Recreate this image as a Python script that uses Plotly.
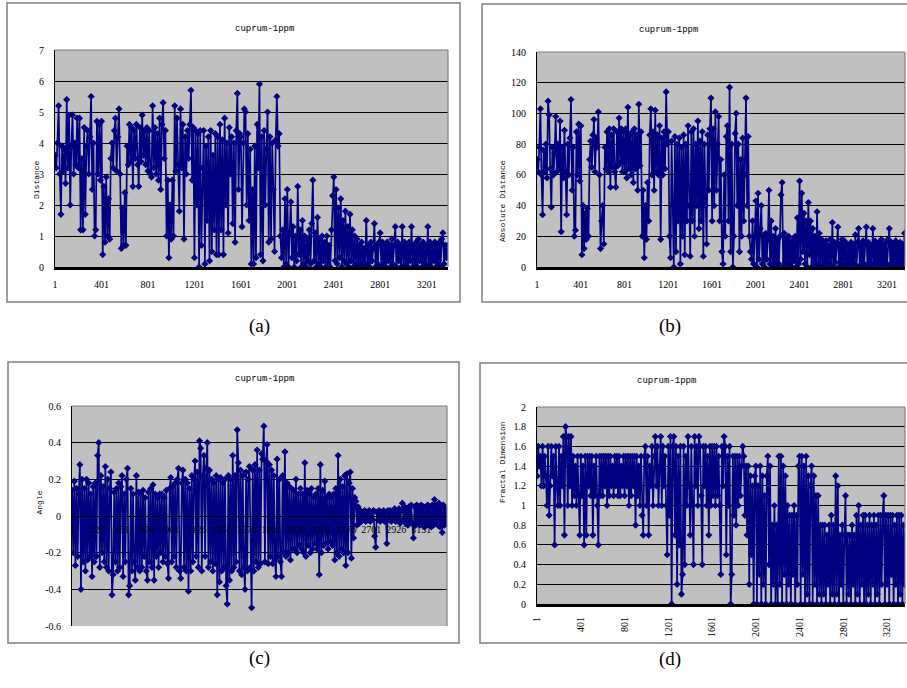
import plotly.graph_objects as go

W, H = 907, 688

# sample index (one value read every 10 samples)
SAMPLE = list(range(1, 3400, 10))

DISTANCE = [
    3.6, 3.2, 4.0, 5.2, 3.0, 1.7, 3.9, 3.1, 3.8, 2.7, 5.4, 3.2, 4.9, 2.0, 3.9, 4.9, 3.0, 4.0, 3.3, 4.8,
    3.2, 4.8, 1.2, 3.5, 1.2, 4.5, 1.7, 3.9, 4.4, 3.0, 4.2, 5.5, 2.5, 4.0, 1.0, 1.2, 4.7, 3.0, 4.6, 2.8,
    4.7, 0.4, 2.6, 0.8, 2.9, 1.0, 2.2, 0.9, 3.5, 4.0, 3.2, 4.4, 4.8, 3.1, 4.2, 5.1, 3.0, 0.6, 1.9, 0.7,
    2.4, 0.7, 3.9, 3.3, 4.6, 3.4, 4.5, 2.6, 4.4, 3.5, 4.6, 3.3, 2.6, 4.5, 3.4, 4.9, 3.6, 4.4, 3.3, 4.5,
    3.1, 4.4, 3.0, 2.9, 5.2, 3.2, 4.5, 3.0, 4.3, 2.8, 4.8, 2.5, 4.6, 5.3, 3.5, 4.4, 1.0, 2.8, 0.3, 2.0,
    0.9, 2.8, 1.0, 5.2, 3.1, 4.8, 3.3, 1.8, 5.1, 3.2, 4.6, 0.9, 4.2, 3.0, 4.4, 3.5, 4.6, 5.7, 2.8, 4.5,
    0.3, 4.4, 2.0, 4.3, 0.0, 4.4, 0.7, 3.2, 4.4, 0.1, 3.9, 1.5, 4.2, 0.2, 4.4, 0.5, 3.6, 1.2, 4.3, 0.4,
    4.2, 0.4, 4.6, 1.2, 4.1, 0.4, 4.8, 2.0, 4.0, 1.1, 4.5, 3.0, 4.2, 1.4, 4.0, 0.8, 4.4, 5.6, 2.5, 4.3,
    4.2, 1.3, 4.0, 5.1, 5.0, 2.0, 4.3, 1.5, 3.8, 0.1, 2.5, 0.1, 3.9, 0.3, 4.6, 3.2, 5.9, 0.4, 4.2, 0.2,
    4.4, 2.0, 3.8, 5.0, 0.8, 4.2, 0.9, 4.0, 2.5, 0.5, 4.1, 5.5, 3.9, 4.3, 1.0, 0.3, 1.2, 0.0, 2.2, 0.1,
    2.5, 0.0, 1.1, 2.1, 0.3, 1.3, 0.0, 1.0, 0.2, 2.6, 0.4, 1.2, 0.0, 1.5, 0.1, 1.0, 0.0, 0.9, 0.2, 1.2,
    0.1, 1.4, 2.8, 0.2, 1.1, 0.0, 1.6, 0.1, 0.9, 0.0, 1.0, 0.2, 0.8, 0.0, 1.0, 0.1, 0.7, 0.0, 1.2, 2.3,
    2.9, 0.2, 2.5, 0.1, 1.9, 0.3, 2.2, 0.0, 1.5, 0.2, 1.8, 0.1, 1.3, 0.0, 1.7, 0.2, 1.2, 0.0, 1.0, 0.1,
    0.9, 0.0, 0.7, 0.1, 0.8, 0.0, 0.6, 0.0, 1.5, 0.1, 0.7, 0.0, 0.8, 0.2, 0.6, 1.4, 0.0, 0.7, 0.1, 0.8,
    1.1, 0.0, 0.8, 0.1, 0.7, 0.0, 0.8, 0.2, 0.7, 0.0, 0.9, 0.1, 0.7, 1.3, 0.0, 0.8, 0.2, 0.7, 0.0, 1.3,
    0.0, 0.8, 0.1, 0.7, 0.0, 0.8, 0.2, 1.3, 0.0, 0.7, 0.1, 0.8, 0.0, 0.9, 0.2, 0.7, 0.0, 0.8, 0.1, 0.7,
    0.0, 1.3, 0.1, 0.8, 0.0, 0.7, 0.2, 0.8, 0.0, 0.7, 0.1, 0.8, 0.0, 0.9, 1.1, 0.1, 0.7, 0.3, 0.7, 0.4,
]

ABS_DISTANCE = [
    70, 62, 78, 103, 60, 34, 76, 62, 80, 58, 108, 99, 64, 39, 78, 60, 74, 98, 62, 80,
    64, 95, 23, 78, 58, 89, 62, 34, 80, 60, 84, 109, 50, 78, 20, 24, 88, 60, 93, 56,
    92, 8, 40, 12, 35, 18, 38, 20, 70, 82, 65, 86, 96, 62, 84, 78, 101, 60, 12, 30,
    40, 15, 78, 64, 88, 62, 90, 52, 86, 65, 90, 62, 52, 88, 66, 97, 68, 90, 62, 88,
    62, 90, 58, 104, 64, 86, 60, 88, 55, 90, 64, 86, 50, 106, 66, 88, 20, 50, 6, 40,
    18, 55, 30, 86, 103, 60, 88, 50, 102, 62, 86, 60, 92, 18, 84, 60, 88, 64, 114, 80,
    88, 20, 6, 82, 40, 0, 85, 10, 80, 30, 84, 2, 78, 20, 86, 8, 80, 30, 92, 40,
    7, 88, 30, 90, 20, 80, 40, 95, 25, 82, 30, 88, 7, 80, 40, 15, 86, 50, 90, 110,
    30, 90, 40, 101, 50, 80, 98, 30, 70, 10, 2, 60, 20, 85, 92, 30, 117, 10, 80, 0,
    20, 87, 100, 40, 80, 10, 70, 20, 84, 30, 60, 110, 40, 85, 20, 10, 5, 30, 2, 20,
    43, 0, 48, 5, 25, 40, 2, 20, 0, 22, 5, 18, 50, 2, 30, 0, 20, 3, 25, 0,
    18, 2, 20, 47, 55, 0, 22, 3, 18, 0, 20, 2, 16, 0, 18, 4, 20, 0, 32, 2,
    56, 5, 48, 10, 35, 2, 30, 0, 42, 8, 30, 0, 25, 3, 20, 0, 36, 2, 22, 0,
    18, 0, 15, 3, 17, 0, 14, 2, 18, 1, 29, 0, 16, 3, 14, 26, 0, 15, 2, 18,
    0, 17, 2, 15, 0, 14, 3, 16, 0, 15, 2, 21, 0, 16, 25, 1, 14, 0, 17, 2,
    15, 26, 0, 16, 3, 14, 0, 25, 2, 17, 0, 15, 3, 16, 0, 18, 2, 14, 0, 16,
    2, 18, 25, 0, 16, 3, 15, 0, 17, 2, 14, 0, 16, 3, 15, 0, 22, 4, 12, 6,
]

ANGLE = [
    0.14, -0.20, 0.19, -0.27, 0.15, -0.22, 0.12, 0.28, -0.40, 0.20, -0.25, 0.15, -0.30, 0.20, -0.24, 0.18, -0.22, 0.12, -0.33, 0.16,
    -0.25, 0.18, -0.22, 0.33, 0.40, -0.28, 0.22, -0.20, 0.16, -0.25, 0.27, -0.28, 0.20, -0.30, 0.15, 0.24, -0.43, -0.32, 0.13, -0.25,
    0.15, -0.30, 0.18, -0.28, 0.16, 0.22, -0.33, 0.12, -0.25, 0.20, 0.26, -0.43, -0.38, 0.15, -0.30, 0.12, -0.25, -0.35, 0.22, -0.28,
    0.13, -0.30, 0.12, -0.28, 0.14, -0.22, 0.10, -0.30, -0.35, 0.13, -0.25, 0.15, -0.28, 0.17, -0.35, 0.12, -0.22, 0.10, -0.28, 0.12,
    -0.20, 0.12, -0.25, 0.10, -0.22, 0.14, -0.26, -0.34, 0.15, 0.21, -0.25, 0.16, -0.22, 0.18, -0.28, 0.20, 0.26, -0.30, -0.34, 0.18,
    0.25, -0.28, 0.20, -0.30, 0.18, -0.41, 0.15, -0.30, 0.22, -0.25, 0.20, 0.30, -0.22, 0.24, -0.28, 0.41, 0.37, -0.30, 0.22, 0.33,
    -0.22, 0.26, 0.40, -0.28, 0.25, -0.25, 0.20, -0.30, 0.18, -0.26, 0.22, -0.43, 0.20, -0.36, 0.21, -0.30, 0.18, -0.28, 0.20, -0.38,
    -0.48, 0.22, -0.35, 0.20, -0.30, 0.33, -0.28, 0.22, -0.25, 0.47, 0.29, -0.30, 0.25, -0.32, 0.22, -0.28, -0.40, 0.24, -0.30, 0.20,
    0.27, -0.28, -0.50, 0.25, -0.30, 0.28, -0.25, 0.36, -0.28, 0.25, -0.26, 0.34, 0.31, 0.49, -0.25, 0.30, 0.39, -0.26, 0.28, -0.22,
    0.25, -0.26, 0.22, -0.24, -0.33, 0.31, -0.22, 0.20, -0.25, -0.33, 0.22, -0.20, 0.35, -0.22, 0.18, -0.20, 0.16, -0.24, 0.15, -0.18,
    0.14, -0.18, 0.20, -0.20, 0.12, -0.16, 0.15, -0.18, 0.12, -0.20, 0.29, -0.22, 0.14, -0.16, 0.12, -0.20, 0.15, -0.18, 0.10, -0.15,
    0.12, -0.18, 0.15, -0.32, 0.28, -0.20, 0.14, -0.16, 0.19, -0.15, 0.10, -0.18, 0.12, -0.14, 0.10, -0.16, 0.12, -0.24, 0.15, -0.20,
    0.33, -0.22, 0.20, -0.18, 0.16, -0.20, 0.22, -0.27, 0.23, -0.20, 0.18, 0.24, -0.23, 0.15, -0.12, 0.10, 0.08, -0.05, 0.05, -0.04,
    0.03, -0.03, 0.02, -0.02, 0.03, -0.03, 0.02, -0.02, 0.03, -0.03, 0.02, -0.02, 0.03, -0.11, -0.17, 0.02, -0.02, 0.03, -0.03, 0.02,
    -0.02, 0.03, -0.03, 0.02, -0.15, 0.03, -0.02, 0.03, -0.03, 0.02, -0.02, 0.04, -0.03, 0.03, -0.02, 0.04, -0.04, 0.03, 0.07, -0.02,
    0.05, -0.04, 0.04, -0.05, 0.05, -0.03, 0.06, -0.04, -0.12, 0.05, -0.05, 0.06, -0.04, 0.05, -0.05, 0.06, -0.04, 0.05, -0.06, 0.05,
    -0.05, 0.06, -0.04, 0.05, -0.06, 0.06, -0.05, 0.09, -0.04, 0.06, -0.05, 0.07, -0.06, 0.05, -0.09, 0.06, -0.05, 0.04, -0.04, 0.03,
]

FRACTAL = [
    1.3, 1.6, 1.4, 1.5, 1.2, 1.6, 1.2, 1.5, 1.3, 1.0, 1.6, 0.9, 1.2, 1.6, 1.3, 1.5, 0.6, 1.6, 1.2, 1.0,
    1.6, 1.0, 1.5, 1.2, 1.7, 0.7, 1.8, 1.7, 1.0, 1.7, 1.2, 1.7, 1.0, 1.5, 1.1, 1.4, 1.0, 1.5, 1.1, 0.7,
    1.5, 1.1, 1.4, 0.6, 1.5, 0.7, 1.5, 1.2, 1.5, 1.1, 1.5, 0.7, 1.4, 1.1, 1.5, 1.0, 0.6, 1.5, 1.1, 1.5,
    1.1, 1.5, 1.2, 1.5, 1.0, 1.5, 1.1, 1.5, 1.2, 1.4, 1.1, 1.5, 1.2, 1.5, 1.1, 1.5, 1.1, 1.4, 1.2, 1.5,
    1.1, 1.5, 1.2, 1.5, 1.0, 1.5, 1.1, 1.5, 1.2, 1.5, 0.8, 1.5, 1.1, 1.4, 1.0, 1.5, 0.9, 0.7, 1.5, 1.6,
    1.0, 1.5, 0.7, 1.4, 1.2, 1.6, 1.0, 1.5, 1.7, 1.2, 1.6, 1.0, 1.4, 1.7, 1.0, 1.6, 1.2, 1.5, 1.0, 0.5,
    1.6, 0.9, 1.7, 0.0, 1.6, 1.7, 0.7, 1.6, 0.2, 1.5, 0.6, 1.6, 0.1, 0.3, 1.6, 0.4, 1.5, 1.0, 1.7, 1.2,
    0.7, 1.6, 1.0, 0.4, 1.7, 1.2, 1.6, 1.0, 1.7, 1.6, 1.1, 0.4, 1.6, 1.2, 1.6, 1.0, 1.5, 0.7, 1.6, 1.0,
    1.6, 1.1, 1.6, 1.0, 1.6, 1.1, 1.5, 1.0, 0.3, 1.6, 1.2, 1.7, 1.6, 0.5, 1.5, 1.0, 1.6, 0.0, 0.3, 1.5,
    0.9, 1.5, 0.8, 1.5, 1.0, 1.5, 1.1, 1.4, 1.6, 1.5, 0.9, 1.4, 0.7, 1.4, 0.2, 1.3, 0.5, 1.2, 0.0, 1.3,
    1.4, 0.0, 1.2, 0.3, 1.4, 0.0, 1.3, 0.2, 1.1, 0.0, 1.3, 1.5, 0.4, 1.4, 0.0, 0.8, 0.2, 1.0, 0.0, 0.8,
    0.0, 1.5, 0.2, 1.5, 0.0, 1.4, 0.3, 1.3, 0.0, 1.0, 0.2, 0.9, 0.0, 0.9, 0.3, 1.0, 0.0, 0.9, 0.2, 1.4,
    1.5, 0.0, 1.5, 0.3, 1.4, 0.0, 1.5, 0.1, 1.3, 0.0, 1.2, 1.4, 0.0, 1.3, 0.2, 1.1, 0.0, 1.1, 0.1, 0.8,
    0.0, 0.8, 0.1, 0.8, 0.0, 0.7, 0.2, 0.8, 0.0, 0.9, 0.1, 0.8, 0.0, 1.3, 0.1, 1.2, 0.0, 0.7, 0.2, 0.8,
    0.0, 0.7, 1.1, 0.0, 0.7, 0.1, 0.7, 0.0, 0.8, 0.2, 0.7, 0.0, 0.9, 0.1, 1.0, 0.0, 0.8, 0.2, 0.9, 0.0,
    0.9, 0.0, 0.8, 0.1, 0.9, 0.0, 0.8, 0.2, 0.9, 0.0, 0.8, 0.1, 0.9, 0.0, 0.9, 0.2, 0.9, 1.1, 0.0, 0.9,
    0.2, 0.9, 0.0, 0.9, 0.3, 0.9, 0.0, 0.8, 0.2, 0.9, 0.0, 0.9, 0.1, 0.9, 0.0, 0.8, 0.2, 0.8, 0.7, 0.8,
]

TITLE = "cuprum-1ppm"
X_TICKS = [1, 401, 801, 1201, 1601, 2001, 2401, 2801, 3201]
X_TICKS_C = [1, 226, 451, 676, 901, 1126, 1351, 1576, 1801, 2026, 2251, 2476, 2701, 2926, 3151]
Y_TITLES = ["Distance", "Absolute Distance", "Angle", "Fractal Dimension"]
PANEL_LABELS = ["(a)", "(b)", "(c)", "(d)"]

NAVY = "#000080"
MONO = "Liberation Mono"
SERIF = "Liberation Serif"


def fx(px):
    return px / W


def fy(py):
    return 1 - py / H


PANELS = [
    dict(series=DISTANCE, plot=(55, 50, 448, 267), box=(7, 3, 460, 302),
         yr=[0, 7], dt=1, xr=[0, 3385], ticks=X_TICKS, tang=0,
         title=(233, 22), ytitle=(30, 158), label=(247, 326)),
    dict(series=ABS_DISTANCE, plot=(537, 52, 905, 267), box=(482, 4, 930, 302),
         yr=[0, 140], dt=20, xr=[0, 3365], ticks=X_TICKS, tang=0,
         title=(700, 23), ytitle=(503, 158), label=(683, 326)),
    dict(series=ANGLE, plot=(72, 406, 447, 626), box=(8, 362, 459, 643),
         yr=[-0.6, 0.6], dt=0.2, xr=[0, 3384], ticks=X_TICKS_C, tang=0,
         title=(233, 379), ytitle=(32, 517), label=(247, 671)),
    dict(series=FRACTAL, plot=(537, 407, 905, 604), box=(480, 363, 930, 643),
         yr=[0, 2], dt=0.2, xr=[0, 3365], ticks=X_TICKS, tang=-90,
         title=(698, 381), ytitle=(502, 505), label=(683, 672)),
]


def tick_text(v):
    if abs(v) < 1e-9:
        return "0"
    t = "%.1f" % v
    if t.endswith(".0"):
        t = t[:-2]
    return t


fig = go.Figure()
shapes = []
annotations = []
layout = {}

for i, p in enumerate(PANELS):
    n = "" if i == 0 else str(i + 1)
    x0, y0, x1, y1 = p["plot"]
    s = p["series"]
    fig.add_trace(go.Scatter(
        x=SAMPLE[:len(s)], y=s, mode="lines+markers",
        line=dict(color=NAVY, width=1.7),
        marker=dict(symbol="diamond", size=5.5, color=NAVY),
        xaxis="x" + n, yaxis="y" + n, showlegend=False, hoverinfo="skip",
        cliponaxis=True,
    ))
    nt = int(round((p["yr"][1] - p["yr"][0]) / p["dt"]))
    yvals = [round(p["yr"][0] + k * p["dt"], 2) for k in range(nt + 1)]
    ytext = [tick_text(v) for v in yvals]
    ydom = [fy(y1), fy(y0)]
    xax = dict(
        domain=[fx(x0), fx(x1)], range=p["xr"], tickvals=p["ticks"],
        ticktext=[str(t) for t in p["ticks"]], tickangle=p["tang"],
        showgrid=False, zeroline=False, ticks="", automargin=False,
        tickfont=dict(family=SERIF, size=10, color="black"),
        anchor="y" + n, showline=True, linecolor="black", linewidth=3,
        ticklabelstandoff=6,
    )
    if i == 2:
        zero_py = (y0 + y1) / 2
        xax.update(anchor="free", position=fy(zero_py), linewidth=1, ticklabelstandoff=4)
    layout["xaxis" + n] = xax
    layout["yaxis" + n] = dict(
        domain=ydom, range=p["yr"], tickvals=yvals, ticktext=ytext,
        showgrid=True, gridcolor="black", gridwidth=1, zeroline=False,
        ticks="", automargin=False,
        tickfont=dict(family=SERIF, size=10, color="black"),
        anchor="x" + n, showline=True, linecolor="black", linewidth=1,
        ticklabelstandoff=8,
    )
    bx0, by0, bx1, by1 = p["box"]
    shapes.append(dict(type="rect", xref="paper", yref="paper",
                       x0=fx(bx0), x1=fx(bx1), y0=fy(by1), y1=fy(by0),
                       line=dict(color="#808080", width=1.5), layer="below"))
    shapes.append(dict(type="line", xref="paper", yref="paper",
                       x0=fx(x0), x1=fx(x1), y0=fy(y0), y1=fy(y0),
                       line=dict(color="#808080", width=1.2), layer="above"))
    shapes.append(dict(type="line", xref="paper", yref="paper",
                       x0=fx(x1), x1=fx(x1), y0=fy(y0), y1=fy(y1),
                       line=dict(color="#808080", width=1.2), layer="above"))
    tx, ty = p["title"]
    annotations.append(dict(text=TITLE, x=fx(tx), y=fy(ty), xref="paper", yref="paper",
                            showarrow=False, font=dict(family=MONO, size=9, color="black")))
    ax, ay = p["ytitle"]
    annotations.append(dict(text=Y_TITLES[i], x=fx(ax), y=fy(ay), xref="paper", yref="paper",
                            showarrow=False, textangle=-90,
                            font=dict(family=MONO, size=8, color="black")))
    lx, ly = p["label"]
    annotations.append(dict(text=PANEL_LABELS[i], x=fx(lx), y=fy(ly), xref="paper", yref="paper",
                            showarrow=False, font=dict(family=SERIF, size=19, color="black")))

fig.update_layout(
    width=W, height=H, margin=dict(l=0, r=0, t=0, b=0, autoexpand=False),
    paper_bgcolor="white", plot_bgcolor="#C0C0C0",
    shapes=shapes, annotations=annotations, **layout,
)

fig.write_html(
    "out.html",
    config={"displayModeBar": False},
    post_script="document.body.style.margin='0';document.body.style.overflow='hidden';",
)
